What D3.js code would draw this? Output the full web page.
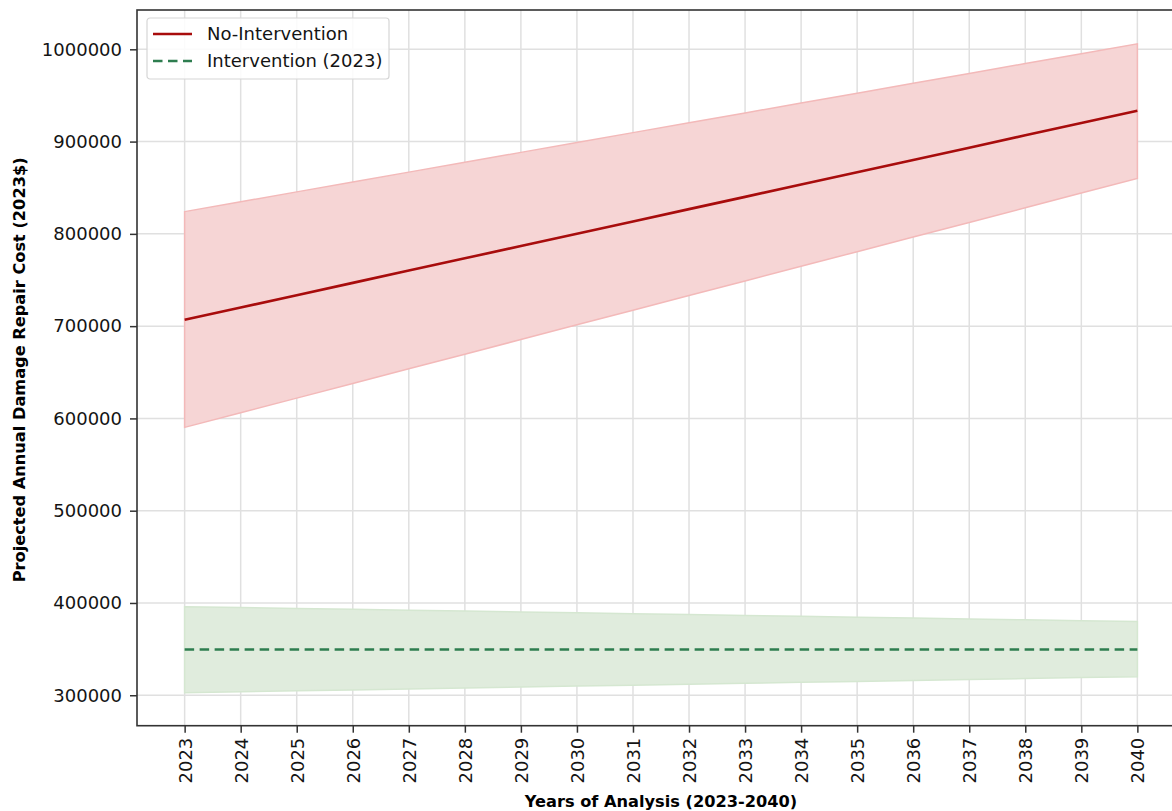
<!DOCTYPE html>
<html>
<head>
<meta charset="utf-8">
<script src="https://cdn.jsdelivr.net/npm/d3@7"></script>
<style>
  body { margin: 0; background: #fff; }
  svg { display: block; font-family: "DejaVu Sans", sans-serif; }
</style>
</head>
<body>
<svg id="chart" width="1172" height="811"></svg>
<script>
// data
var years = [2023, 2024, 2025, 2026, 2027, 2028, 2029, 2030, 2031, 2032, 2033, 2034, 2035, 2036, 2037, 2038, 2039, 2040];

var noIntervention = [706900, 720200, 733500, 746900, 760200, 773500, 786800, 800200, 813500,
  826800, 840100, 853500, 866800, 880100, 893400, 906800, 920100, 933400];
var noInterventionHigh = [824100, 834800, 845500, 856200, 866900, 877600, 888300, 899000, 909700,
  920400, 931100, 941800, 952500, 963200, 973900, 984600, 995300, 1006000];
var noInterventionLow = [590300, 606200, 622000, 637900, 653800, 669600, 685500, 701400, 717200,
  733100, 749000, 764800, 780700, 796600, 812400, 828300, 844200, 860000];

var intervention = [349600, 349600, 349600, 349600, 349600, 349600, 349600, 349600, 349600,
  349600, 349600, 349600, 349600, 349600, 349600, 349600, 349600, 349600];
var interventionHigh = [396000, 395000, 394100, 393100, 392200, 391200, 390300, 389300, 388400,
  387400, 386500, 385500, 384600, 383600, 382700, 381700, 380800, 379800];
var interventionLow = [302800, 303800, 304800, 305800, 306900, 307900, 308900, 309900, 310900,
  312000, 313000, 314000, 315000, 316000, 317100, 318100, 319100, 320100];

var yTicks = [300000, 400000, 500000, 600000, 700000, 800000, 900000, 1000000];
var legendLabels = ["No-Intervention", "Intervention (2023)"];

var xTitle = "Years of Analysis (2023-2040)";
var yTitle = "Projected Annual Damage Repair Cost (2023$)";

// layout
var margin = { top: 10, left: 137 };
var plotW = 1048, plotH = 715.7;

var svg = d3.select("#chart");
var g = svg.append("g")
  .attr("transform", "translate(" + margin.left + "," + margin.top + ")");

var x = d3.scaleLinear()
  .domain([2022.15, 2040.85])
  .range([0, plotW]);

var y = d3.scaleLinear()
  .domain([267000, 1042600])
  .range([plotH, 0]);

// grid
g.append("g").selectAll("line")
  .data(years)
  .enter().append("line")
  .attr("x1", d => x(d)).attr("x2", d => x(d))
  .attr("y1", 0).attr("y2", plotH)
  .attr("stroke", "#e0e0e0")
  .attr("stroke-width", 1.5);

g.append("g").selectAll("line")
  .data(yTicks)
  .enter().append("line")
  .attr("x1", 0).attr("x2", plotW)
  .attr("y1", d => y(d)).attr("y2", d => y(d))
  .attr("stroke", "#e0e0e0")
  .attr("stroke-width", 1.5);

// bands
var redBand = years.map((d, i) => ({ x: d, lo: noInterventionLow[i], hi: noInterventionHigh[i] }));
var greenBand = years.map((d, i) => ({ x: d, lo: interventionLow[i], hi: interventionHigh[i] }));

var area = d3.area()
  .x(d => x(d.x))
  .y0(d => y(d.lo))
  .y1(d => y(d.hi));

g.append("path")
  .datum(redBand)
  .attr("d", area)
  .attr("fill", "#f6d5d5")
  .attr("stroke", "#f3b9b9")
  .attr("stroke-width", 1.5);

g.append("path")
  .datum(greenBand)
  .attr("d", area)
  .attr("fill", "#e0ecdd")
  .attr("stroke", "#d5e7d1")
  .attr("stroke-width", 1.5);

// lines
var line = d3.line()
  .x((d, i) => x(years[i]))
  .y(d => y(d));

g.append("path")
  .datum(noIntervention)
  .attr("d", line)
  .attr("fill", "none")
  .attr("stroke", "#a80c0c")
  .attr("stroke-width", 2.6);

g.append("path")
  .datum(intervention)
  .attr("d", line)
  .attr("fill", "none")
  .attr("stroke", "#2e7d4f")
  .attr("stroke-width", 2.6)
  .attr("stroke-dasharray", "9.5,5.5");

// axes
var xAxis = g.append("g")
  .attr("transform", "translate(0," + plotH + ")")
  .call(d3.axisBottom(x).tickValues(years).tickFormat(d3.format("d")).tickSize(7).tickSizeOuter(0));

xAxis.selectAll("text")
  .attr("transform", "rotate(-90)")
  .attr("x", -12)
  .attr("y", 0)
  .attr("dy", "0.36em")
  .style("text-anchor", "end");

var yAxis = g.append("g")
  .call(d3.axisLeft(y).tickValues(yTicks).tickFormat(d3.format("d")).tickSize(7).tickSizeOuter(0));

yAxis.selectAll("text")
  .attr("x", -15);

[xAxis, yAxis].forEach(a => {
  a.select(".domain").remove();
  a.selectAll("line").attr("stroke", "#333").attr("stroke-width", 1.5);
  a.selectAll("text").attr("fill", "#141414").style("font-size", "18px")
    .style("font-family", "DejaVu Sans, sans-serif");
});

// spines
g.append("rect")
  .attr("x", 0).attr("y", 0)
  .attr("width", plotW).attr("height", plotH)
  .attr("fill", "none")
  .attr("stroke", "#333")
  .attr("stroke-width", 1.6);

// axis titles
svg.append("text")
  .attr("x", margin.left + x(2031.5))
  .attr("y", 807)
  .attr("text-anchor", "middle")
  .style("font-size", "16.2px")
  .style("font-weight", "bold")
  .attr("fill", "#000")
  .text(xTitle);

svg.append("text")
  .attr("transform", "translate(25," + (margin.top + plotH / 2 + 2) + ") rotate(-90)")
  .attr("text-anchor", "middle")
  .style("font-size", "16.2px")
  .style("font-weight", "bold")
  .attr("fill", "#000")
  .text(yTitle);

// legend
var legend = g.append("g").attr("transform", "translate(10,8)");

legend.append("rect")
  .attr("width", 242).attr("height", 61)
  .attr("rx", 3)
  .attr("fill", "#fff")
  .attr("fill-opacity", 0.85)
  .attr("stroke", "#d6d6d6")
  .attr("stroke-width", 1.2);

var legendStyles = [
  { color: "#a80c0c", dash: null },
  { color: "#2e7d4f", dash: "9.5,5.5" }
];

legendLabels.forEach((label, i) => {
  var row = legend.append("g").attr("transform", "translate(0," + (16 + i * 27) + ")");
  row.append("line")
    .attr("x1", 6).attr("x2", 45)
    .attr("stroke", legendStyles[i].color)
    .attr("stroke-width", 2.6)
    .attr("stroke-dasharray", legendStyles[i].dash);
  row.append("text")
    .attr("x", 60)
    .attr("dy", "0.35em")
    .style("font-size", "18px")
    .attr("fill", "#141414")
    .text(label);
});
</script>
</body>
</html>
